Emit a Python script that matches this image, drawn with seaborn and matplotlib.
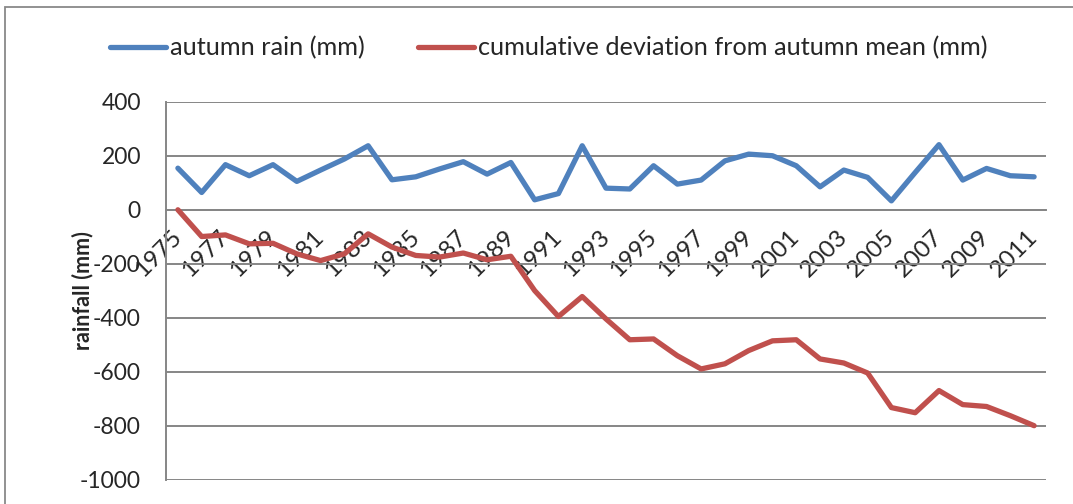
import matplotlib
matplotlib.use("Agg")
import matplotlib.pyplot as plt
from matplotlib.patches import Rectangle
from matplotlib.ticker import MultipleLocator, FixedLocator
import seaborn as sns
import pandas as pd

years = list(range(1975, 2012))
rain = [154, 64, 167, 126, 167, 105, 147, 188, 237, 111, 122, 151, 178,
        132, 175, 37, 60, 237, 80, 77, 163, 95, 110, 181, 206,
        200, 163, 85, 147, 120, 33, 138, 241, 110, 153, 126, 122]
cumdev = [0, -99, -93, -126, -124, -163, -188, -163, -89, -138, -169, -175, -160,
          -185, -172, -299, -395, -321, -404, -481, -478, -540, -589, -570, -521,
          -485, -481, -552, -567, -604, -732, -751, -669, -721, -728, -762, -799]
series_names = ["autumn rain (mm)", "cumulative deviation from autumn mean (mm)"]
colors = ["#4F81BD", "#C0504D"]
y_label = "rainfall (mm)"

df = pd.DataFrame({
    "year": years * 2,
    "value": rain + cumdev,
    "series": [series_names[0]] * len(years) + [series_names[1]] * len(years),
})

sns.set_style("white")
plt.rcParams["font.family"] = ["Lato", "DejaVu Sans"]
plt.rcParams["axes.unicode_minus"] = False

fig = plt.figure(figsize=(10.73, 5.04), dpi=100)
ax = fig.add_axes([166 / 1073, 24 / 504, 880 / 1073, 378.3 / 504])

sns.lineplot(data=df, x="year", y="value", hue="series", palette=colors,
             linewidth=3.8, ax=ax, legend=False, solid_capstyle="round",
             solid_joinstyle="round", zorder=3)

grid_c = "#868686"
ax.set_xlim(years[0] - 0.5, years[-1] + 0.5)
ax.set_ylim(-1000, 400)
ax.yaxis.set_major_locator(MultipleLocator(200))
ax.grid(axis="y", color=grid_c, linewidth=1.4)
ax.grid(axis="x", visible=False)

for s in ["top", "right"]:
    ax.spines[s].set_visible(False)
ax.spines["left"].set_color(grid_c)
ax.spines["left"].set_linewidth(1.4)
ax.spines["bottom"].set_position(("data", 0))
ax.spines["bottom"].set_color(grid_c)
ax.spines["bottom"].set_linewidth(1.4)

# year labels on every other category, boundary ticks between categories
ax.xaxis.set_major_locator(FixedLocator(years[::2]))
ax.xaxis.set_minor_locator(FixedLocator([y - 0.5 for y in years] + [years[-1] + 0.5]))
ax.set_xticklabels([str(y) for y in years[::2]], rotation=45, ha="right",
                   va="center", rotation_mode="anchor", fontsize=17.5)
ax.tick_params(axis="x", which="major", length=0, pad=17)
ax.tick_params(axis="x", which="minor", direction="out", length=6,
               width=1.4, color=grid_c)
ax.tick_params(axis="y", which="major", direction="out", length=6,
               width=1.4, color=grid_c, labelsize=16.5, pad=12)
ax.set_xlabel("")
ax.set_ylabel(y_label, fontsize=15.5, fontweight="bold")
ax.yaxis.set_label_coords(-0.083, 0.5)

handles = [plt.Line2D([], [], color=c, linewidth=3.8, solid_capstyle="round")
           for c in colors]
fig.legend(handles, series_names, loc="center left",
           bbox_to_anchor=(110 / 1073, 1 - 47.7 / 504), ncol=2, frameon=False,
           fontsize=18.2, handlelength=2.2, handletextpad=0.18,
           columnspacing=2.1, borderpad=0, borderaxespad=0)

fig.patches.append(Rectangle((5 / 1073, -0.1), 1.2, 1.1 - 7 / 504,
                             transform=fig.transFigure, fill=False,
                             edgecolor="#898989", linewidth=1.3))

fig.savefig("out.png", dpi=100)
